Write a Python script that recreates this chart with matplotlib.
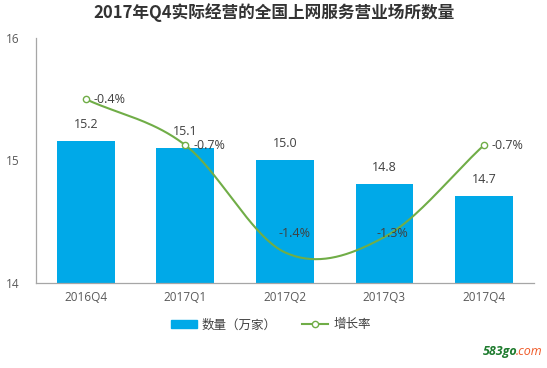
import numpy as np
import matplotlib
matplotlib.use("Agg")
import matplotlib.pyplot as plt
from matplotlib.lines import Line2D
from matplotlib.patches import Patch

plt.rcParams['font.family'] = ['Open Sans', 'Noto Sans CJK SC', 'DejaVu Sans']

categories = ['2016Q4', '2017Q1', '2017Q2', '2017Q3', '2017Q4']
counts = [15.16, 15.10, 15.00, 14.81, 14.71]
growth = [-0.4, -0.7, -1.4, -1.3, -0.7]
y_ticks = [14, 15, 16]

bar_color = '#00A9E8'
line_color = '#70AD47'
text_color = '#404040'

fig = plt.figure(figsize=(5.47, 3.68), dpi=100)
ax = fig.add_axes([0.0658, 0.231, 0.910, 0.666])
x = np.arange(len(categories))
ax.bar(x, counts, width=0.58, color=bar_color, zorder=2)
ax.set_xlim(-0.5, len(categories) - 0.5)
ax.set_ylim(14, 16)
ax.set_yticks(y_ticks)
ax.set_yticklabels([str(t) for t in y_ticks])
ax.set_xticks(x)
ax.set_xticklabels(categories)
ax.tick_params(axis='both', length=0, labelsize=8.5, colors='#595959', pad=6)
ax.tick_params(axis='y', pad=12)
for s in ['top', 'right']:
    ax.spines[s].set_visible(False)
for s in ['left', 'bottom']:
    ax.spines[s].set_color('#A6A6A6')
    ax.spines[s].set_linewidth(0.9)
for xi, v in zip(x, counts):
    ax.annotate(f'{v:.1f}', (xi, v), xytext=(0, 10), textcoords='offset pixels',
                ha='center', va='bottom', fontsize=9, color=text_color)

ax2 = ax.twinx()
ax2.set_ylim(-1.6, 0)
ax2.axis('off')

# Catmull-Rom smoothing of the growth series
px = x.astype(float)
py = np.array(growth, dtype=float)
ext_x = np.concatenate([[2 * px[0] - px[1]], px, [2 * px[-1] - px[-2]]])
ext_y = np.concatenate([[2 * py[0] - py[1]], py, [2 * py[-1] - py[-2]]])
sx, sy = [], []
t = np.linspace(0, 1, 40)
for i in range(1, len(ext_x) - 2):
    p0, p1, p2, p3 = [np.array([ext_x[j], ext_y[j]]) for j in range(i - 1, i + 3)]
    pts = 0.5 * ((2 * p1)[None, :] + (-p0 + p2)[None, :] * t[:, None]
                 + (2 * p0 - 5 * p1 + 4 * p2 - p3)[None, :] * t[:, None] ** 2
                 + (-p0 + 3 * p1 - 3 * p2 + p3)[None, :] * t[:, None] ** 3)
    sx.extend(pts[:, 0]); sy.extend(pts[:, 1])
ax2.plot(sx, sy, color=line_color, lw=1.5, zorder=3)
ax2.plot(px, py, ls='none', marker='o', ms=4.5, mfc='white', mec=line_color, mew=1.0,
         markevery=[0, 1, 4], zorder=4)

offsets = [(8, 0), (8, 0), (-6, 19), (-8, 4), (8, 0)]
for xi, g, (dx, dy) in zip(px, growth, offsets):
    ax2.annotate(f'{g:.1f}%', (xi, g), xytext=(dx, dy), textcoords='offset pixels',
                 ha='left', va='center', fontsize=9, color=text_color)

fig.text(0.5, 0.967, '2017年Q4实际经营的全国上网服务营业场所数量', ha='center', va='center',
         fontsize=12, fontweight='bold', color='#333333',
         family=['Noto Sans CJK SC', 'DejaVu Sans'])

handles = [Patch(color=bar_color),
           Line2D([0], [0], color=line_color, lw=1.5, marker='o', ms=4.5, mfc='white', mec=line_color)]
leg = fig.legend(handles, ['数量（万家）', '增长率'], loc='center', bbox_to_anchor=(0.495, 0.117),
                 ncol=2, frameon=False, handlelength=2.1, handleheight=0.6,
                 handletextpad=0.4, columnspacing=2.0,
                 prop={'family': ['Noto Sans CJK SC'], 'size': 9})
for txt in leg.get_texts():
    txt.set_color(text_color)

fig.text(0.882, 0.045, '583go', ha='left', va='center', fontsize=9, style='italic',
         fontweight='bold', color='#1E7B2E')
fig.text(0.943, 0.045, '.com', ha='left', va='center', fontsize=9, style='italic',
         color='#F05A28')

fig.savefig('out.png', dpi=100, facecolor='white')
